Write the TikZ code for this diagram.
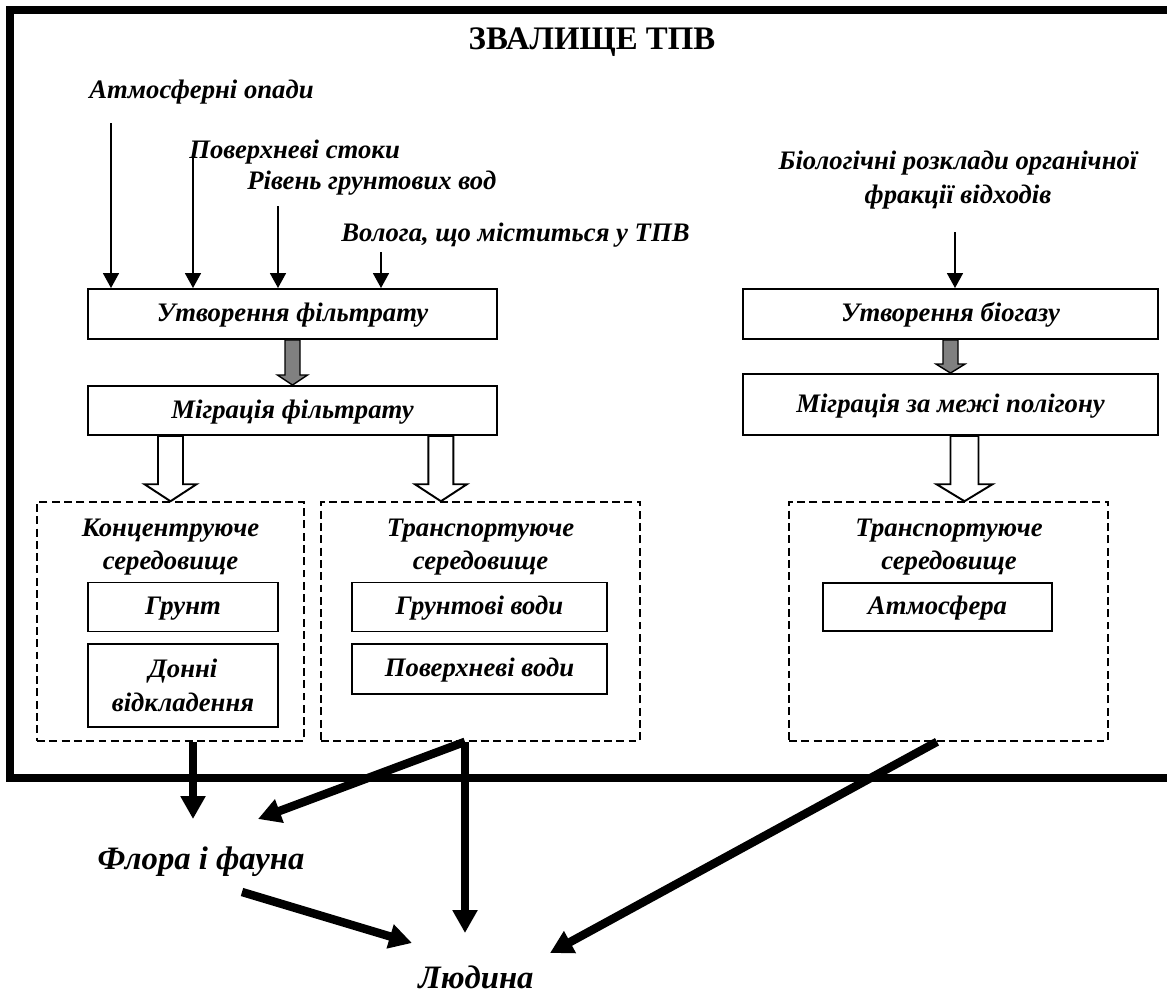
\documentclass[tikz,border=0pt]{standalone}
\usepackage{fontspec}
\setmainfont{Liberation Serif}
\usetikzlibrary{positioning,arrows.meta,calc}

% block arrow: style, start, tip, half shaft, half head, head length
\newcommand{\blockarrow}[6]{%
  \draw[#1] ($(#2)+(-#4,0)$) -- ($(#3)+(-#4,#6)$) -- ($(#3)+(-#5,#6)$) -- (#3)
    -- ($(#3)+(#5,#6)$) -- ($(#3)+(#4,#6)$) -- ($(#2)+(#4,0)$) -- cycle;}

\begin{document}
\begin{tikzpicture}[x=0.02cm, y=0.02cm]
% Definition of blocks:
\tikzset{%
  tallblock/.style = {draw, line width=1.1pt, rectangle, inner sep=0pt, align=center,
                      font=\bfseries\itshape\fontsize{15.2}{19}\selectfont},
  block/.style     = {tallblock, text height=0.9em, text depth=0pt},
  dashblock/.style = {draw, line width=0.9pt, dash pattern=on 4.5pt off 2.5pt, rectangle, inner sep=0pt},
  source/.style    = {inner sep=0pt, align=center, font=\bfseries\itshape\fontsize{15.2}{19}\selectfont},
  result/.style    = {inner sep=0pt, font=\bfseries\itshape\fontsize{18.6}{22}\selectfont},
  title/.style     = {inner sep=0pt, font=\bfseries\fontsize{18.7}{22}\selectfont},
  feed/.style      = {line width=1.2pt, -{Triangle[length=8.5pt, width=9pt]}},
  bigarrow/.style  = {line width=4.8pt, -{Triangle[length=13pt, width=13.5pt]}},
  greyarrow/.style = {draw, line width=0.8pt, fill=gray},
  openarrow/.style = {draw, line width=1.1pt, fill=white},
  frame/.style     = {line width=4.6pt}
}
\useasboundingbox (0,0) rectangle (1167,-998);

\draw[frame] (1180,-10) -- (10,-10) -- (10,-778) -- (1180,-778);

\node[title] (Title) at (592,-42) {ЗВАЛИЩЕ ТПВ};

% left column
\draw
  node [source, anchor=west] (Atm) at (89,-92) {Атмосферні опади}
  node [source, anchor=west] (Pov) at (189,-152) {Поверхневі стоки}
  node [source, anchor=west] (Riv) at (247,-183) {Рівень грунтових вод}
  node [source, anchor=west] (Vol) at (341,-235) {Волога, що міститься у ТПВ}
  node [block, minimum width=8.18cm, minimum height=1cm] (Filtr) at (292.5,-314) {Утворення фільтрату}
  node [block, minimum width=8.18cm, minimum height=0.98cm] (Migr) at (292.5,-410.5) {Міграція фільтрату};

\draw[feed] ($(Atm.west)+(22,-31)$) coordinate (a1) -- (a1 |- Filtr.north);
\draw[feed] ($(Pov.west)+(4,-5)$) coordinate (a2) -- (a2 |- Filtr.north);
\draw[feed] ($(Riv.west)+(31,-23)$) coordinate (a3) -- (a3 |- Filtr.north);
\draw[feed] ($(Vol.west)+(40,-17)$) coordinate (a4) -- (a4 |- Filtr.north);

\blockarrow{greyarrow}{Filtr.south}{Migr.north}{7.5}{15}{10}

\draw
  node [dashblock, minimum width=5.34cm, minimum height=4.78cm] (Konz) at (170.5,-621.5) {}
  node [source] (KonzT) at (170.5,-547) {Концентруюче\\середовище}
  node [block, minimum width=3.8cm, minimum height=0.98cm] (Grunt) at (183,-607) {Грунт}
  node [tallblock, minimum width=3.8cm, minimum height=1.66cm] (Donni) at (183,-685.5) {Донні\\відкладення}
  node [dashblock, minimum width=6.38cm, minimum height=4.78cm] (Trans) at (480.5,-621.5) {}
  node [source] (TransT) at (480.5,-547) {Транспортуюче\\середовище}
  node [block, minimum width=5.1cm, minimum height=0.98cm] (GrVody) at (479.5,-607) {Грунтові води}
  node [block, minimum width=5.1cm, minimum height=1cm] (PovVody) at (479.5,-669) {Поверхневі води};

\coordinate (m1) at (Migr.south -| Konz.north);
\coordinate (m2) at ($(Migr.south east)+(-57,0)$);
\coordinate (m2e) at (m2 |- Trans.north);
\blockarrow{openarrow}{m1}{Konz.north}{12.5}{26}{17}
\blockarrow{openarrow}{m2}{m2e}{12.5}{26}{17}

% right column
\draw
  node [source] (BioSrc) at (958,-180) {Біологічні розклади органічної\\фракції відходів}
  node [block, minimum width=8.3cm, minimum height=1cm] (Bio) at (950.5,-314) {Утворення біогазу}
  node [block, minimum width=8.3cm, minimum height=1.22cm] (Migr2) at (950.5,-404.5) {Міграція за межі полігону}
  node [dashblock, minimum width=6.38cm, minimum height=4.78cm] (Air) at (948.5,-621.5) {}
  node [source] (AirT) at (949,-547) {Транспортуюче\\середовище}
  node [block, minimum width=4.58cm, minimum height=0.96cm] (Atmo) at (937.5,-607) {Атмосфера};

\coordinate (b1) at (955,-232);
\draw[feed] (b1) -- (b1 |- Bio.north);
\blockarrow{greyarrow}{Bio.south}{Migr2.north}{7.5}{14.5}{9}
\coordinate (m3) at ($(Migr2.south)+(14,0)$);
\coordinate (m3e) at (m3 |- Air.north);
\blockarrow{openarrow}{m3}{m3e}{14}{28}{17}

% outside the dump
\draw
  node [result] (Flora) at (201,-862) {Флора і фауна}
  node [result] (Human) at (476,-977) {Людина};

\coordinate (k1) at ($(Konz.south)+(22.5,0)$);
\coordinate (t1) at ($(Trans.south)+(-15.5,0)$);
\coordinate (s1) at ($(Air.south)+(-11.5,0)$);
\coordinate (FloraIn) at (258,-819);
\coordinate (FloraOut) at (242,-892);
\coordinate (HumanIn1) at (412,-943);
\coordinate (HumanIn2) at (550,-953);

\draw[bigarrow] (k1) -- (k1 |- FloraIn);
\draw[bigarrow] (t1) -- (FloraIn);
\draw[bigarrow] (t1) -- (t1 |- 0,-933);
\draw[bigarrow] (FloraOut) -- (HumanIn1);
\draw[bigarrow] (s1) -- (HumanIn2);

\end{tikzpicture}
\end{document}
